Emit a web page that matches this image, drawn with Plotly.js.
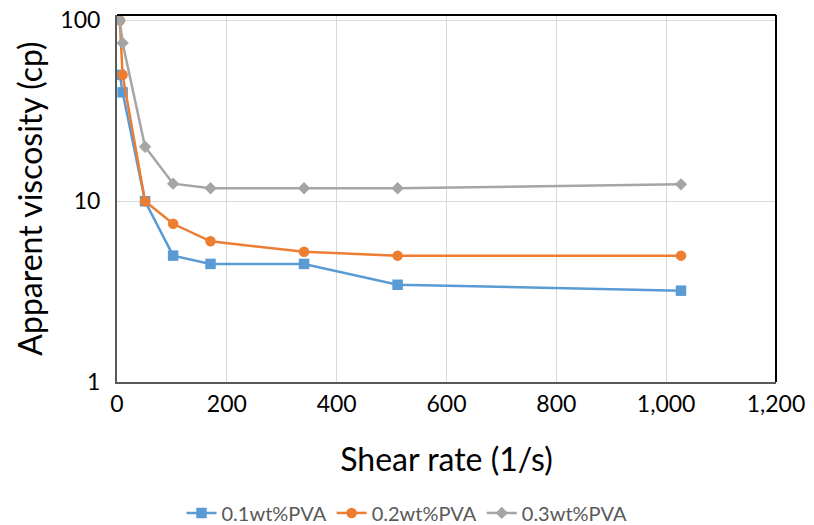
<!DOCTYPE html>
<html>
<head>
<meta charset="utf-8">
<script src="https://cdn.plot.ly/plotly-3.0.1.min.js"></script>
<style>
  html, body { margin: 0; padding: 0; background: #fff; }
  #chart { width: 814px; height: 525px; }
</style>
</head>
<body>
<div id="chart"></div>
<script>
// Shear rates (1/s) and apparent viscosity (cp) for each PVA concentration
const shearRate = [5.11, 10.22, 51.1, 102.2, 170.3, 340.6, 511, 1027];
const visc01 = [50, 40, 10, 5, 4.5, 4.5, 3.45, 3.2];
const visc02 = [100, 50, 10, 7.5, 6, 5.25, 5, 5];
const visc03 = [100, 75, 20, 12.5, 11.8, 11.8, 11.8, 12.4];
const seriesNames = ['0.1wt%PVA', '0.2wt%PVA', '0.3wt%PVA'];
const xTicks = [0, 200, 400, 600, 800, 1000, 1200];
const yTicks = [1, 10, 100];

const font = 'Lato, "Open Sans", sans-serif';

function series(y, name, color, symbol, size) {
  return {
    x: shearRate, y: y, name: name, type: 'scatter', mode: 'lines+markers',
    line: { color: color, width: 2.5 },
    marker: { color: color, symbol: symbol, size: size }
  };
}

const data = [
  series(visc01, seriesNames[0], '#5B9BD5', 'square', 10.5),
  series(visc02, seriesNames[1], '#ED7D31', 'circle', 10.5),
  series(visc03, seriesNames[2], '#A5A5A5', 'diamond', 9.5)
];

const layout = {
  width: 814, height: 525,
  margin: { l: 117, r: 38, t: 15, b: 143 },
  paper_bgcolor: '#fff', plot_bgcolor: '#fff',
  font: { family: font, color: '#000' },
  showlegend: true,
  legend: {
    orientation: 'h', x: 0.5, xref: 'container', xanchor: 'center',
    y: 0.023, yref: 'container', yanchor: 'middle',
    font: { family: font, size: 20, color: '#595959' },
    itemwidth: 30
  },
  xaxis: {
    range: [0, 1200], tickvals: xTicks, tickformat: ',d',
    showgrid: true, gridcolor: '#D9D9D9', gridwidth: 1,
    zeroline: false, showline: true, linecolor: '#595959', linewidth: 2,
    ticks: '', tickfont: { family: font, size: 23, color: '#000' },
    title: { text: 'Shear rate (1/s)', font: { family: font, size: 32, color: '#000' }, standoff: 33 }
  },
  yaxis: {
    type: 'log', range: [0, 2.03], tickvals: yTicks, ticktext: yTicks.map(String),
    showgrid: true, gridcolor: '#D9D9D9', gridwidth: 1,
    zeroline: false, showline: true, linecolor: '#595959', linewidth: 2,
    ticks: '', tickfont: { family: font, size: 23, color: '#000' }, ticklabelstandoff: 10,
    title: { text: 'Apparent viscosity (cp)', font: { family: font, size: 32, color: '#000' }, standoff: 8 }
  },
  shapes: [
    { type: 'line', xref: 'paper', yref: 'paper', x0: 0, x1: 1, y0: 1, y1: 1, line: { color: '#000', width: 2 } },
    { type: 'line', xref: 'paper', yref: 'paper', x0: 1, x1: 1, y0: 0, y1: 1, line: { color: '#000', width: 2 } }
  ]
};

Plotly.newPlot('chart', data, layout, { displayModeBar: false, staticPlot: true });
</script>
</body>
</html>
